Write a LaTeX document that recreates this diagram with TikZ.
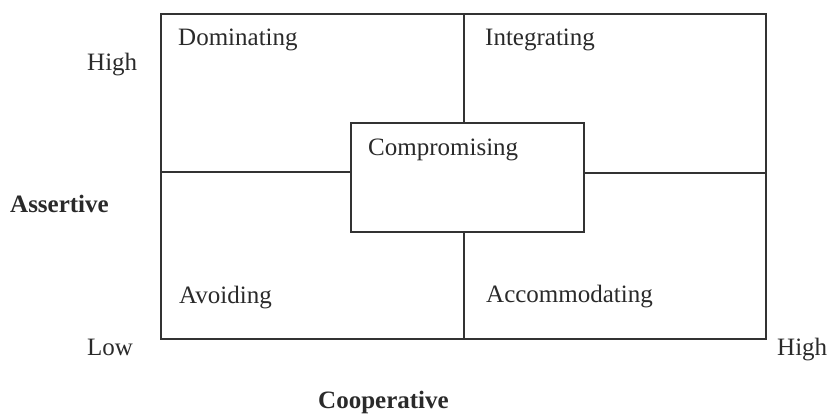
\documentclass[tikz,border=0pt]{standalone}
\usepackage{fontspec}
\setmainfont{Liberation Serif}
\usepackage{tikz}
\usetikzlibrary{positioning,calc}
\definecolor{linec}{HTML}{333333}
\definecolor{textc}{HTML}{2A2A2A}
\tikzset{
  frame/.style={draw=linec,line width=1.6pt},
  lbl/.style={inner sep=0pt,anchor=base west,text=textc,font=\fontsize{25}{30}\selectfont},
  axislbl/.style={lbl,font=\fontsize{25}{30}\selectfont\bfseries}
}

\begin{document}
\begin{tikzpicture}[x=1pt,y=-1pt]
  \useasboundingbox (0,0) rectangle (827,416);
  % quadrant frame and the middle box
  \node[frame,minimum width=605pt,minimum height=325pt] (grid) at (463.5,176.5) {};
  \node[frame,fill=white,minimum width=233pt,minimum height=109pt] (mid) at (467.5,177.5) {};
  \coordinate (vx) at (464,0);
  \coordinate (hl) at (0,172);
  \coordinate (hr) at (0,173);
  \draw[frame] (vx |- grid.north) -- (vx |- mid.north);
  \draw[frame] (vx |- mid.south) -- (vx |- grid.south);
  \draw[frame] (grid.west |- hl) -- (mid.west |- hl);
  \draw[frame] (mid.east |- hr) -- (grid.east |- hr);
  % styles in the four corners
  \node[lbl] (dom) at (178,45) {Dominating};
  \node[lbl] (integ) at (485,45) {Integrating};
  \node[lbl] (comp) at (368,155) {Compromising};
  \node[lbl] (avoid) at (179,303) {Avoiding};
  \node[lbl] (accom) at (486,302) {Accommodating};
  % axes
  \node[lbl] (yhigh) at (87,70) {High};
  \node[axislbl] (yaxis) at (10,212) {Assertive};
  \node[lbl] (low) at (87,355) {Low};
  \node[lbl] (xhigh) at (777,355) {High};
  \node[axislbl] (xaxis) at (318,408) {Cooperative};
\end{tikzpicture}
\end{document}
